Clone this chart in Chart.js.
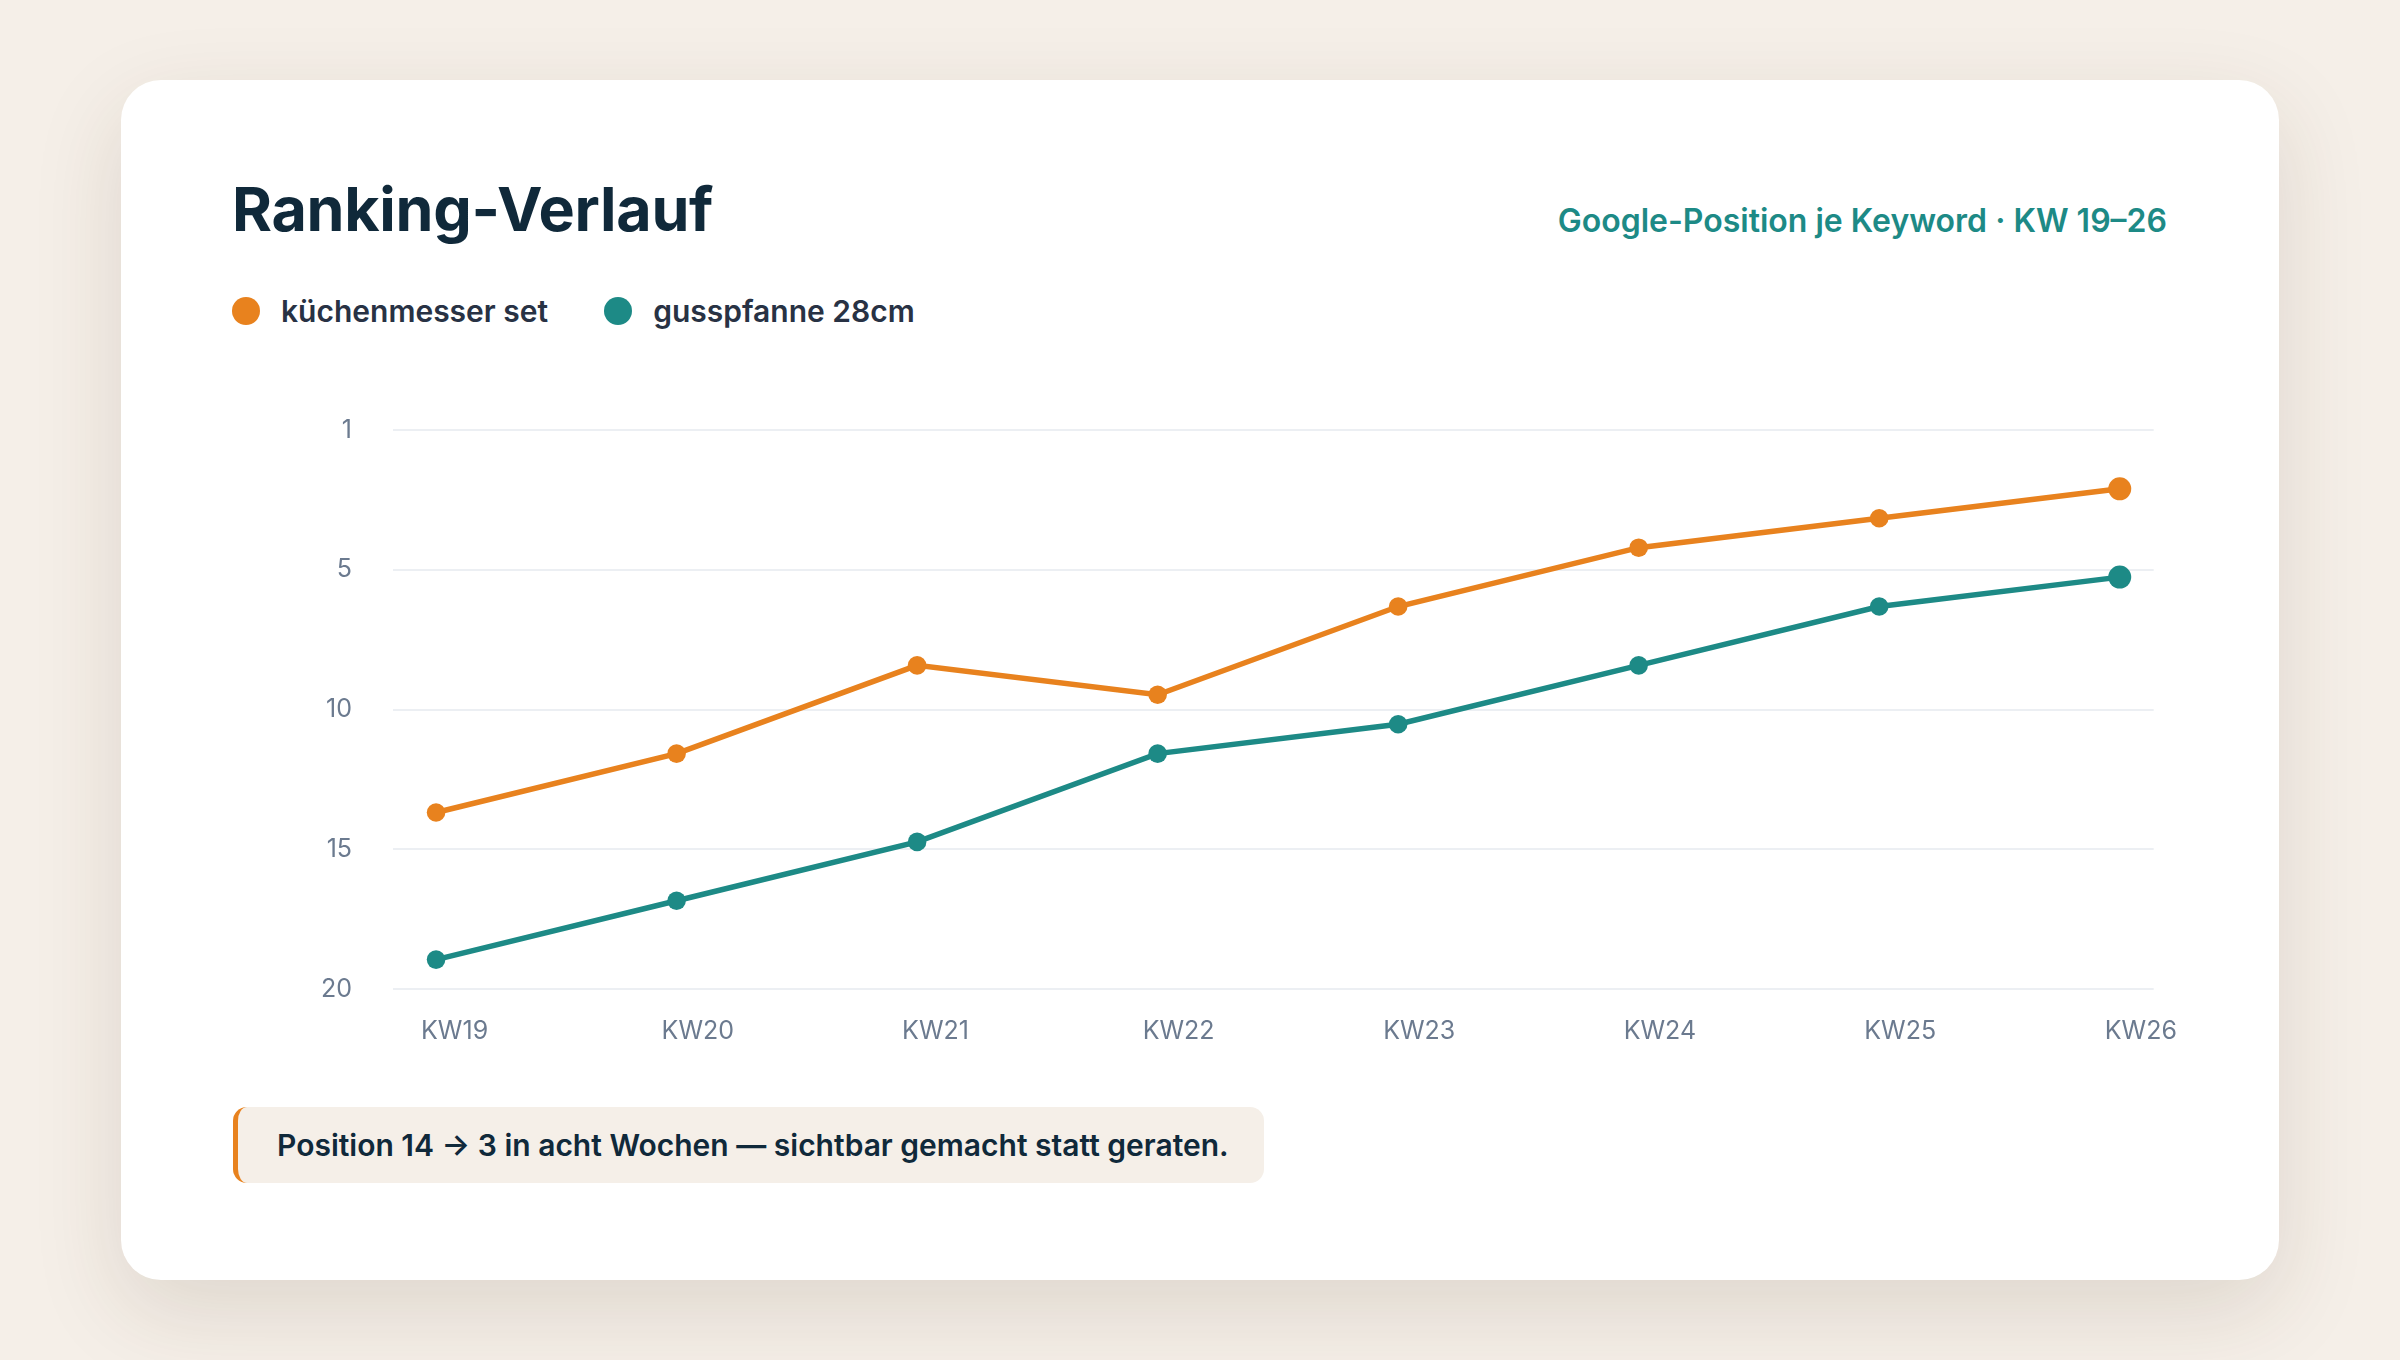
<!DOCTYPE html>
<html lang="de">
<head>
    <meta charset="UTF-8">
    <script src="https://cdn.jsdelivr.net/npm/chart.js"></script>
    <style>
        body {
            margin: 0;
            width: 2400px;
            height: 1360px;
            background: #f5efe8;
            font-family: "Inter", "Noto Sans", sans-serif;
            position: relative;
            overflow: hidden;
        }
        #card {
            position: absolute;
            left: 121px;
            top: 80px;
            width: 2158px;
            height: 1200px;
            background: #ffffff;
            border-radius: 40px;
            box-shadow: 0 30px 90px rgba(70, 50, 25, 0.13);
        }
        #title {
            position: absolute;
            left: 232px;
            top: 171px;
            font-size: 61px;
            line-height: 76px;
            font-weight: 700;
            color: #10293a;
            letter-spacing: -0.3px;
        }
        #subtitle {
            position: absolute;
            right: 233px;
            top: 201px;
            font-size: 32px;
            line-height: 40px;
            font-weight: 600;
            color: #1d8a86;
        }
        #legend {
            position: absolute;
            left: 232px;
            top: 291px;
            display: flex;
            align-items: center;
        }
        .item {
            display: flex;
            align-items: center;
            margin-right: 56px;
            font-size: 30px;
            line-height: 40px;
            font-weight: 600;
            color: #283244;
        }
        .dot {
            width: 28px;
            height: 28px;
            border-radius: 50%;
            margin-right: 21px;
        }
        #wrap {
            position: absolute;
            left: 233px;
            top: 374px;
            width: 1979px;
            height: 685px;
        }
        #note {
            position: absolute;
            left: 233px;
            top: 1107px;
            width: 1031px;
            height: 76px;
            background: #f5efe8;
            border-left: 5px solid #e8821e;
            border-radius: 14px;
            box-sizing: border-box;
            padding-left: 39px;
            font-size: 30px;
            line-height: 76px;
            font-weight: 600;
            color: #10293a;
        }
    </style>
</head>
<body>
    <div id="card"></div>
    <div id="title">Ranking-Verlauf</div>
    <div id="subtitle">Google-Position je Keyword · KW 19–26</div>
    <div id="legend"></div>
    <div id="wrap"><canvas id="rankChart"></canvas></div>
    <div id="note">Position 14 → 3 in acht Wochen — sichtbar gemacht statt geraten.</div>

    <script>
        // Daten
        const weeks = ['KW19', 'KW20', 'KW21', 'KW22', 'KW23', 'KW24', 'KW25', 'KW26'];
        const messerSet = [14, 12, 9, 10, 7, 5, 4, 3];      // küchenmesser set
        const pfanne28 = [19, 17, 15, 12, 11, 9, 7, 6];     // gusspfanne 28cm
        const seriesNames = ['küchenmesser set', 'gusspfanne 28cm'];
        const seriesColors = ['#e8821e', '#1d8a86'];
        const yTickLabels = ['1', '5', '10', '15', '20'];
        const yMin = 1, yMax = 20;

        // Legende als HTML
        const legend = document.getElementById('legend');
        seriesNames.forEach((name, i) => {
            const item = document.createElement('div');
            item.className = 'item';
            item.innerHTML = '<span class="dot" style="background:' + seriesColors[i] + '"></span>' + name;
            legend.appendChild(item);
        });

        const lastIdx = weeks.length - 1;
        function makeSet(values, i) {
            return {
                label: seriesNames[i],
                data: values.map((v, k) => ({ x: k, y: v })),
                borderColor: seriesColors[i],
                backgroundColor: seriesColors[i],
                borderWidth: 5.5,
                tension: 0,
                pointRadius: (c) => c.dataIndex === lastIdx ? 11.5 : 9.3,
                pointHoverRadius: 12,
                pointBorderWidth: 0,
                clip: false
            };
        }

        const ctx = document.getElementById('rankChart').getContext('2d');
        new Chart(ctx, {
            type: 'line',
            data: {
                datasets: [makeSet(messerSet, 0), makeSet(pfanne28, 1)]
            },
            options: {
                responsive: true,
                maintainAspectRatio: false,
                animation: false,
                layout: { padding: { top: 20, right: 56, left: 0, bottom: 0 } },
                plugins: {
                    legend: { display: false },
                    tooltip: { enabled: false }
                },
                scales: {
                    x: {
                        type: 'linear',
                        min: -0.179,
                        max: 7.141,
                        grid: { display: false },
                        border: { display: false },
                        afterBuildTicks: (scale) => {
                            scale.ticks = weeks.map((w, k) => ({ value: k }));
                        },
                        afterFit: (scale) => { scale.height = 70; },
                        ticks: {
                            autoSkip: false,
                            maxRotation: 0,
                            align: 'start',
                            labelOffset: -15,
                            padding: 19,
                            color: '#6b7a8f',
                            font: { family: 'Inter', size: 25 },
                            callback: (v, k) => weeks[k]
                        }
                    },
                    y: {
                        type: 'linear',
                        reverse: true,
                        min: yMin,
                        max: yMax,
                        grid: { color: '#eceff3', lineWidth: 2, drawTicks: false },
                        border: { display: false },
                        afterBuildTicks: (scale) => {
                            const n = yTickLabels.length;
                            scale.ticks = yTickLabels.map((t, k) => ({ value: yMin + k * (yMax - yMin) / (n - 1) }));
                        },
                        afterFit: (scale) => { scale.width = 160; },
                        ticks: {
                            padding: 41,
                            color: '#6b7a8f',
                            font: { family: 'Inter', size: 25 },
                            callback: (v, k) => yTickLabels[k]
                        }
                    }
                }
            }
        });
    </script>
</body>
</html>
